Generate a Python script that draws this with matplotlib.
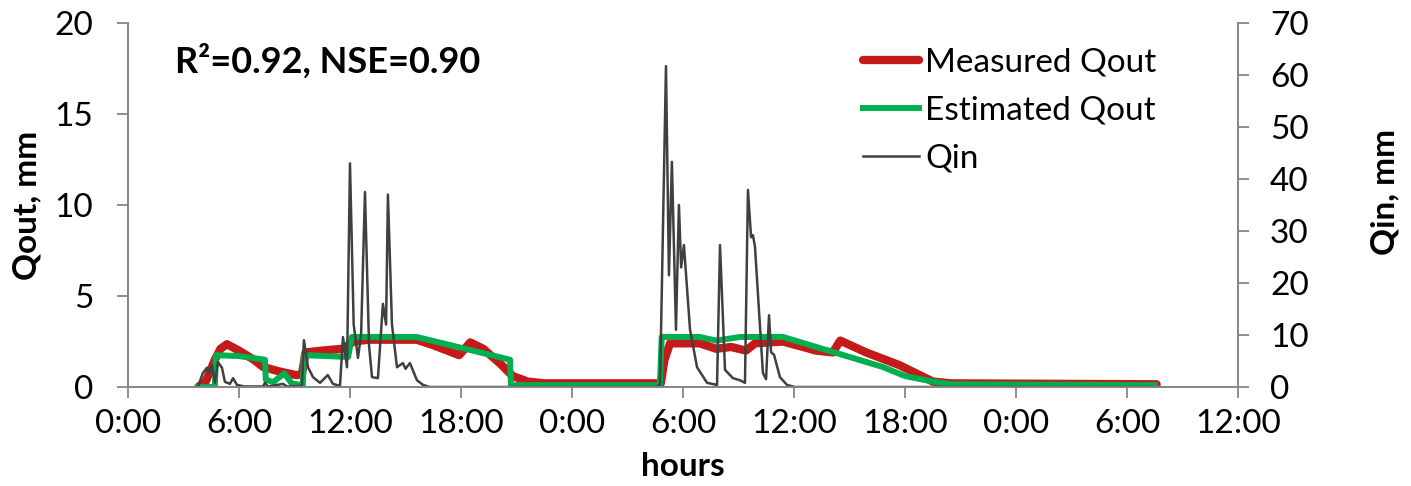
import matplotlib
matplotlib.use("Agg")
import matplotlib.pyplot as plt

plt.rcParams['font.family'] = ['Lato', 'DejaVu Sans']

# Measured outflow (hours since start, mm)
meas_h = [3.8, 4.2, 4.7, 5.0, 5.35, 6.0, 6.8, 7.3, 8.2, 9.1, 9.4, 9.6, 10.5, 11.6, 12.2, 13.0,
          15.6, 16.5, 17.9, 18.5, 19.2, 20.1, 20.8, 21.6, 22.5, 28.8, 29.0, 29.3, 30.9, 31.8,
          32.6, 33.4, 33.9, 35.4, 37.2, 38.1, 38.5, 39.9, 41.7, 42.5, 43.5, 44.5, 55.6]
meas_q = [0.0, 0.3, 1.5, 2.1, 2.35, 2.0, 1.5, 1.1, 0.85, 0.65, 0.7, 1.9, 2.0, 2.1, 2.5, 2.6,
          2.6, 2.3, 1.75, 2.45, 2.1, 1.3, 0.6, 0.3, 0.2, 0.2, 1.5, 2.4, 2.4, 2.1,
          2.2, 2.0, 2.4, 2.5, 2.0, 1.9, 2.55, 1.9, 1.2, 0.8, 0.3, 0.2, 0.15]

# Estimated outflow
est_h = [3.8, 4.7, 4.75, 6.0, 7.4, 7.45, 7.85, 8.45, 8.85, 9.4, 9.45, 9.5, 11.9, 12.1, 15.6,
         20.65, 20.7, 28.75, 28.85, 30.9, 31.8, 33.1, 35.4, 39.0, 40.8, 42.0, 43.5, 44.5, 55.5]
est_q = [0.0, 0.0, 1.75, 1.7, 1.5, 0.4, 0.27, 0.75, 0.2, 0.1, 0.1, 1.75, 1.65, 2.75, 2.75,
         1.5, 0.1, 0.1, 2.75, 2.75, 2.55, 2.75, 2.75, 1.65, 1.1, 0.6, 0.3, 0.15, 0.1]

# Inflow (right axis)
qin_h = [3.78, 4.05, 4.27, 4.38, 4.54, 4.70, 4.86, 5.08, 5.24, 5.51, 5.68, 5.89, 6.3, 7.3,
         7.4, 7.57, 8.38, 8.6, 9.4, 9.51, 9.73, 10.0, 10.38, 10.8, 11.08, 11.46, 11.62, 11.84,
         12.0, 12.2, 12.43, 12.6, 12.81, 13.03, 13.19, 13.51, 13.78, 13.95, 14.05, 14.27,
         14.54, 14.86, 15.0, 15.24, 15.62, 15.95, 16.3, 28.6, 28.76, 29.08, 29.24, 29.4,
         29.62, 29.78, 29.9, 30.05, 30.38, 30.76, 31.3, 31.84, 32.0, 32.27, 32.7, 33.08,
         33.35, 33.51, 33.68, 33.78, 33.89, 34.32, 34.49, 34.65, 34.76, 34.92, 35.24, 35.62,
         36.05, 55.5]
qin_v = [0.0, 2.7, 3.7, 2.7, 4.2, 0.8, 4.8, 3.7, 1.0, 0.6, 1.7, 0.4, 0.1, 0.1,
         0.8, 0.1, 0.6, 0.1, 0.2, 9.0, 3.8, 1.9, 0.8, 2.3, 0.6, 0.2, 9.6, 3.8,
         43.0, 12.0, 5.6, 10.0, 37.5, 8.0, 1.9, 1.7, 16.0, 12.0, 37.0, 12.0,
         3.8, 4.6, 3.5, 4.6, 1.3, 0.4, 0.0, 0.0, 0.5, 61.7, 21.5, 43.3,
         11.0, 35.0, 23.0, 27.3, 11.0, 3.8, 0.8, 0.4, 27.3, 3.3, 1.7, 1.3,
         0.8, 37.9, 28.8, 29.2, 27.0, 2.7, 1.5, 13.8, 6.7, 6.2, 1.9, 0.4,
         0.0, 0.0]

tick_hours = [0, 6, 12, 18, 24, 30, 36, 42, 48, 54, 60]
tick_labels = ["0:00", "6:00", "12:00", "18:00", "0:00", "6:00", "12:00", "18:00",
               "0:00", "6:00", "12:00"]

fig = plt.figure(figsize=(14.11, 4.86), dpi=100)
ax = fig.add_axes([0.0907, 0.2037, 0.7867, 0.749])
ax2 = ax.twinx()

axis_grey = '#868686'
fs = 24

l1, = ax.plot(meas_h, meas_q, color='#C41A1A', lw=6, solid_capstyle='round', label='Measured Qout')
l2, = ax.plot(est_h, est_q, color='#00B050', lw=4.3, label='Estimated Qout')
l3, = ax2.plot(qin_h, qin_v, color='#404040', lw=1.8, label='Qin')

ax.set_xlim(0, 60)
ax.set_ylim(0, 20)
ax2.set_ylim(0, 70)
ax.set_xticks(tick_hours)
ax.set_xticklabels(tick_labels)
ax.set_yticks([0, 5, 10, 15, 20])
ax2.set_yticks(range(0, 71, 10))

for a in (ax, ax2):
    a.spines['top'].set_visible(False)
    for s in ('left', 'right', 'bottom'):
        a.spines[s].set_color(axis_grey)
        a.spines[s].set_linewidth(1.3)
    a.tick_params(axis='both', colors=axis_grey, labelcolor='black', labelsize=fs,
                  length=8, width=1.3, direction='out')
ax.tick_params(axis='y', pad=17)
ax2.tick_params(axis='y', pad=15)
ax.tick_params(axis='x', pad=8)

fig.text(683 / 1411, 1 - 466 / 486, 'hours', fontsize=fs, fontweight='bold',
         ha='center', va='center')
fig.text(27 / 1411, 1 - 205 / 486, 'Qout, mm', fontsize=fs, fontweight='bold',
         rotation=90, ha='center', va='center')
fig.text(1385 / 1411, 1 - 192 / 486, 'Qin, mm', fontsize=fs, fontweight='bold',
         rotation=90, ha='center', va='center')

ax.text(0.042, 0.895, 'R²=0.92, NSE=0.90', transform=ax.transAxes,
        fontsize=26, fontweight='bold', va='center', ha='left')

ax.legend(handles=[l1, l2, l3], loc='upper left', bbox_to_anchor=(863 / 1411, 1 - 48 / 486),
          bbox_transform=fig.transFigure, frameon=False, fontsize=fs, handlelength=1.67,
          handletextpad=0.2, labelspacing=0.53, borderpad=0, borderaxespad=0)

fig.savefig('out.png', dpi=100)
